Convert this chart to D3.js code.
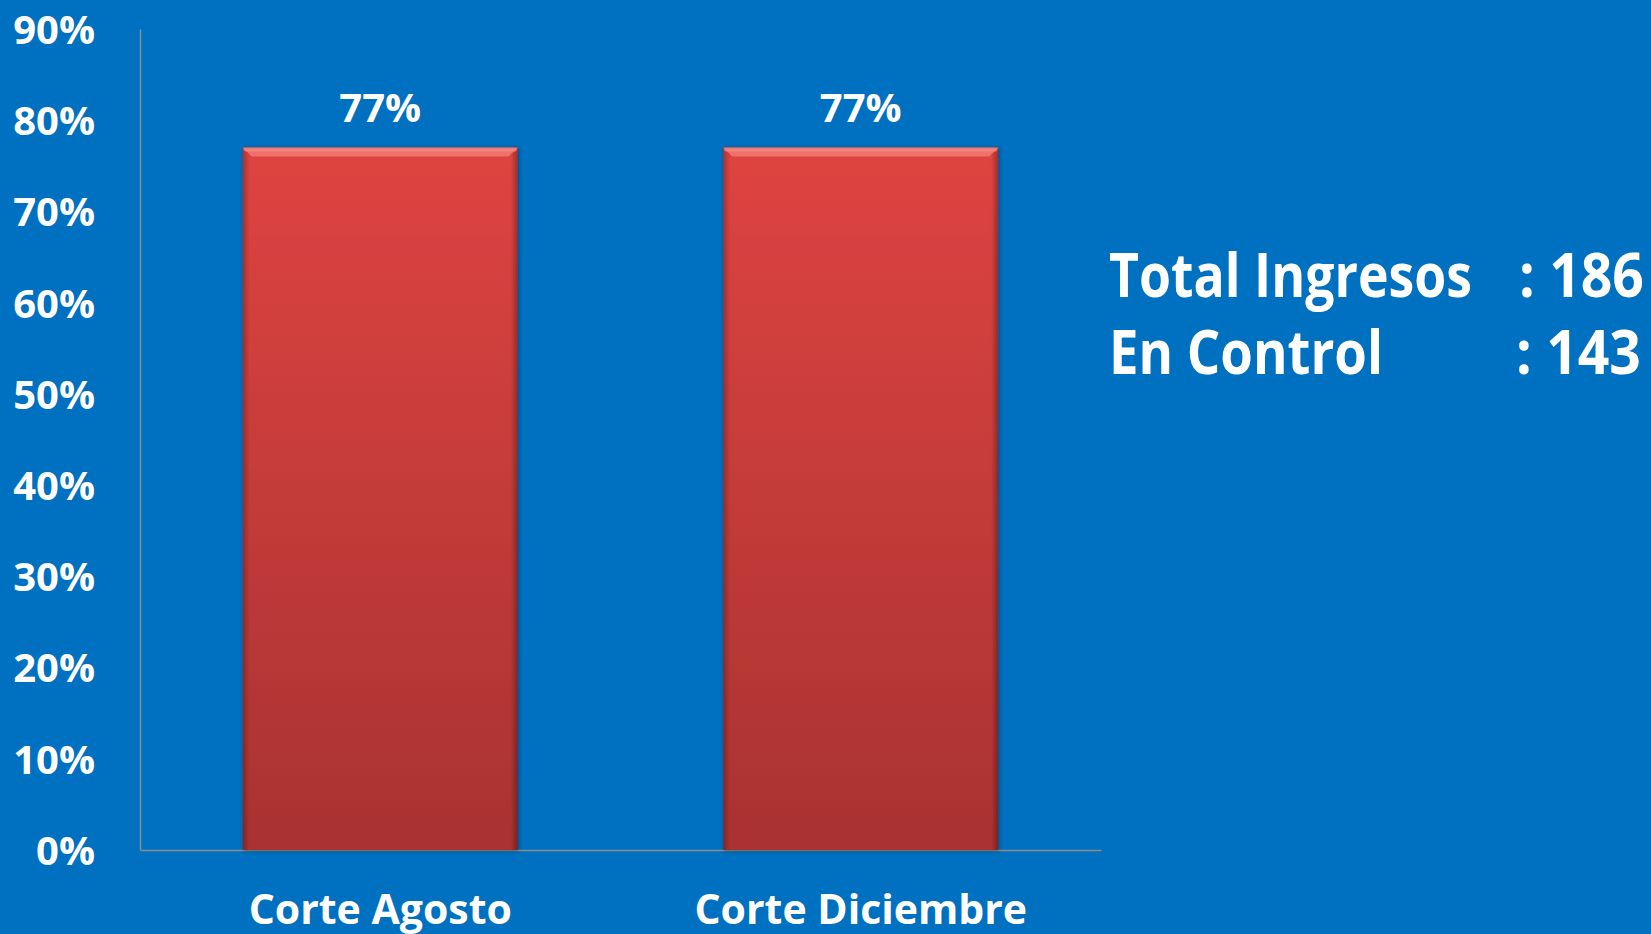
<!DOCTYPE html>
<html>
<head>
<meta charset="utf-8">
<script src="https://cdn.jsdelivr.net/npm/d3@7"></script>
<style>
  html, body { margin: 0; padding: 0; background: #0070C0; overflow: hidden; }
  svg { display: block; }
  text { font-family: "Open Sans", "Lato", sans-serif; font-weight: 700; fill: #fff; }
</style>
</head>
<body>
<div id="chart"></div>
<script>
// chart data
const categories = ['Corte Agosto', 'Corte Diciembre'];
const values = [0.77, 0.77];
const yTicks = [0, 0.1, 0.2, 0.3, 0.4, 0.5, 0.6, 0.7, 0.8, 0.9];
const summaryLabels = ['Total Ingresos', 'En Control'];
const summaryValues = [186, 143];

const width = 1651, height = 934;
const svg = d3.select('#chart').append('svg')
  .attr('width', width)
  .attr('height', height);

svg.append('rect').attr('width', width).attr('height', height).attr('fill', '#0070C0');

const plot = {left: 140, right: 1101, top: 29, bottom: 850};

const x = d3.scaleBand()
  .domain(categories)
  .range([plot.left, plot.right])
  .paddingInner(0.428)
  .paddingOuter(0.214);

const y = d3.scaleLinear()
  .domain([0, 0.9])
  .range([plot.bottom, plot.top]);

// gradients for the bevelled bars
const defs = svg.append('defs');
const grad = defs.append('linearGradient')
  .attr('id', 'barFill').attr('x1', 0).attr('y1', 0).attr('x2', 0).attr('y2', 1);
grad.append('stop').attr('offset', '0%').attr('stop-color', '#DE4441');
grad.append('stop').attr('offset', '100%').attr('stop-color', '#A93232');

const side = defs.append('linearGradient')
  .attr('id', 'sideFill').attr('x1', 0).attr('y1', 0).attr('x2', 1).attr('y2', 0);
side.append('stop').attr('offset', '0%').attr('stop-color', '#000').attr('stop-opacity', 0.25);
side.append('stop').attr('offset', '2.5%').attr('stop-color', '#000').attr('stop-opacity', 0);
side.append('stop').attr('offset', '97.5%').attr('stop-color', '#000').attr('stop-opacity', 0);
side.append('stop').attr('offset', '100%').attr('stop-color', '#000').attr('stop-opacity', 0.3);

const shadow = defs.append('filter').attr('id', 'shadow')
  .attr('x', '-10%').attr('y', '-10%').attr('width', '120%').attr('height', '120%');
shadow.append('feDropShadow').attr('dx', 1).attr('dy', 1).attr('stdDeviation', 2)
  .attr('flood-color', '#000').attr('flood-opacity', 0.35);

// axes
const yAxis = d3.axisLeft(y).tickValues(yTicks).tickSize(0).tickPadding(45)
  .tickFormat(d3.format('.0%'));
const gy = svg.append('g').attr('transform', `translate(${plot.left},0)`).call(yAxis);
gy.select('.domain').attr('stroke', '#8c8c8c').attr('stroke-width', 1.5);
gy.selectAll('.tick text')
  .attr('fill', '#fff')
  .style('font-size', '40px')
  .style('font-family', '"Open Sans", sans-serif')
  .style('font-weight', 700)
  .attr('dy', '0.36em');

const xAxis = d3.axisBottom(x).tickSize(0).tickPadding(45);
const gx = svg.append('g').attr('transform', `translate(0,${plot.bottom})`).call(xAxis);
gx.select('.domain').attr('stroke', '#8c8c8c').attr('stroke-width', 1.5);
gx.selectAll('.tick text')
  .attr('fill', '#fff')
  .style('font-size', '41px')
  .style('font-family', '"Open Sans", sans-serif')
  .style('font-weight', 700);

// bars
const bars = svg.append('g').selectAll('g')
  .data(values)
  .join('g')
  .attr('filter', 'url(#shadow)');

bars.append('rect')
  .attr('x', (d, i) => x(categories[i]))
  .attr('y', d => y(d))
  .attr('width', x.bandwidth())
  .attr('height', d => y(0) - y(d))
  .attr('fill', 'url(#barFill)');

bars.append('rect')
  .attr('x', (d, i) => x(categories[i]))
  .attr('y', d => y(d))
  .attr('width', x.bandwidth())
  .attr('height', d => y(0) - y(d))
  .attr('fill', 'url(#sideFill)');

// top bevel
const bev = 9;
bars.append('path')
  .attr('d', (d, i) => {
    const x0 = x(categories[i]), x1 = x0 + x.bandwidth(), t = y(d);
    return `M${x0},${t}L${x1},${t}L${x1 - bev},${t + bev}L${x0 + bev},${t + bev}Z`;
  })
  .attr('fill', '#F0706C');
bars.append('path')
  .attr('d', (d, i) => {
    const x0 = x(categories[i]), x1 = x0 + x.bandwidth(), t = y(d);
    return `M${x0},${t + 1}L${x1},${t + 1}L${x1 - 2},${t + 4}L${x0 + 2},${t + 4}Z`;
  })
  .attr('fill', '#F48B88').attr('opacity', 0.7);

// value labels
svg.append('g').selectAll('text')
  .data(values)
  .join('text')
  .attr('x', (d, i) => x(categories[i]) + x.bandwidth() / 2)
  .attr('y', d => y(d) - 40)
  .attr('dy', '0.36em')
  .attr('text-anchor', 'middle')
  .style('font-size', '40px')
  .text(d => d3.format('.0%')(d));

// summary text on the right
const labelWidths = [363, 274];
const summary = svg.append('g');
summary.selectAll('text.lab')
  .data(summaryLabels)
  .join('text')
  .attr('class', 'lab')
  .attr('x', 1109)
  .attr('y', (d, i) => 297 + i * 77)
  .attr('textLength', (d, i) => labelWidths[i])
  .attr('lengthAdjust', 'spacingAndGlyphs')
  .style('font-size', '60px')
  .text(d => d);
summary.selectAll('text.val')
  .data(summaryValues)
  .join('text')
  .attr('class', 'val')
  .attr('x', (d, i) => 1519 - i * 3)
  .attr('y', (d, i) => 297 + i * 77)
  .attr('textLength', 125)
  .attr('lengthAdjust', 'spacingAndGlyphs')
  .style('font-size', '60px')
  .text(d => ': ' + d);
</script>
</body>
</html>
